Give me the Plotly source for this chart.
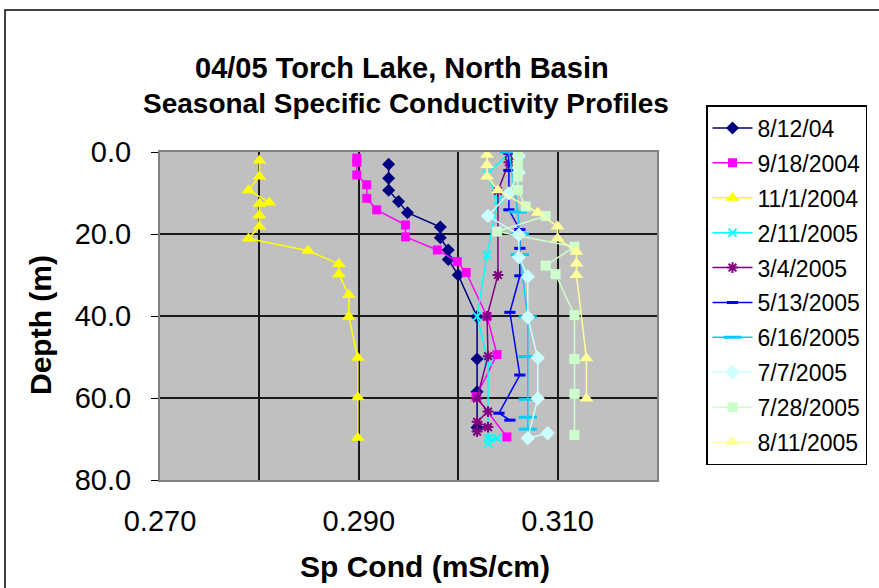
import plotly.graph_objects as go

# ---- data (x = Sp Cond mS/cm, y = depth m) ----
labels = ["8/12/04", "9/18/2004", "11/1/2004", "2/11/2005", "3/4/2005",
          "5/13/2005", "6/16/2005", "7/7/2005", "7/28/2005", "8/11/2005"]

cond_0812 = [0.2930, 0.2930, 0.2930, 0.2940, 0.2949, 0.2982, 0.2982, 0.2990, 0.2990, 0.3000, 0.3019, 0.3019, 0.3019, 0.3019]
depth_0812 = [3.0, 6.4, 9.3, 12.1, 14.8, 18.3, 20.9, 23.9, 26.2, 30.0, 40.2, 50.5, 58.5, 67.2]

cond_0918 = [0.2898, 0.2898, 0.2898, 0.2908, 0.2908, 0.2918, 0.2947, 0.2947, 0.2979, 0.2999, 0.3008, 0.3029, 0.3039, 0.3018, 0.3049]
depth_0918 = [1.5, 2.5, 5.6, 8.0, 11.3, 14.1, 17.8, 20.7, 23.9, 26.7, 29.4, 40.1, 49.4, 59.7, 69.5]

cond_1101 = [0.2800, 0.2800, 0.2789, 0.2810, 0.2800, 0.2800, 0.2800, 0.2789, 0.2849, 0.2880, 0.2880, 0.2890, 0.2890, 0.2899, 0.2899, 0.2899]
depth_1101 = [2.1, 6.0, 9.3, 12.3, 12.6, 15.4, 18.2, 21.1, 24.1, 27.3, 29.8, 34.9, 40.2, 50.2, 59.8, 69.7]

cond_0211 = [0.3051, 0.3029, 0.3040, 0.3029, 0.3019, 0.3030, 0.3030, 0.3039, 0.3030]
depth_0211 = [0.3, 5.5, 11.7, 25.1, 40.1, 51.1, 69.8, 69.8, 71.0]

cond_0304 = [0.3051, 0.3051, 0.3040, 0.3040, 0.3029, 0.3030, 0.3019, 0.3030, 0.3019, 0.3030, 0.3019]
depth_0304 = [0.5, 2.5, 9.5, 30.0, 40.1, 49.8, 60.1, 63.3, 65.8, 67.1, 68.2]

cond_0513 = [0.3051, 0.3051, 0.3051, 0.3062, 0.3062, 0.3062, 0.3052, 0.3062, 0.3041, 0.3052]
depth_0513 = [0.2, 4.5, 14.1, 18.9, 23.5, 30.2, 39.1, 54.4, 63.7, 65.4]

cond_0616 = [0.3051, 0.3060, 0.3062, 0.3062, 0.3070, 0.3070, 0.3070, 0.3070, 0.3070]
depth_0616 = [0.0, 14.6, 20.0, 25.0, 40.2, 49.9, 60.3, 64.7, 67.6]

cond_0707 = [0.3061, 0.3061, 0.3051, 0.3030, 0.3061, 0.3061, 0.3070, 0.3070, 0.3080, 0.3080, 0.3070, 0.3090]
depth_0707 = [1.0, 5.0, 10.1, 15.6, 20.2, 25.7, 30.4, 40.3, 50.2, 60.1, 69.8, 68.6]

cond_0728 = [0.3060, 0.3060, 0.3060, 0.3060, 0.3068, 0.3088, 0.3039, 0.3117, 0.3088, 0.3098, 0.3117, 0.3117, 0.3117, 0.3117]
depth_0728 = [0.3, 3.2, 6.0, 9.3, 13.3, 15.6, 19.4, 23.1, 27.7, 29.8, 39.8, 50.5, 59.0, 69.0]

cond_0811 = [0.3029, 0.3029, 0.3029, 0.3040, 0.3080, 0.3100, 0.3100, 0.3119, 0.3119, 0.3119, 0.3129, 0.3129]
depth_0811 = [0.7, 3.2, 6.0, 9.3, 14.8, 18.2, 21.1, 24.3, 27.2, 30.0, 50.3, 60.1]

x_tickvals = [0.270, 0.280, 0.290, 0.300, 0.310, 0.320]
x_ticktext = ["0.270", "", "0.290", "", "0.310", ""]
y_tickvals = [0, 20, 40, 60, 80]

series = [
    (cond_0812, depth_0812, "#000080", "diamond", 10, 0),
    (cond_0918, depth_0918, "#FF00FF", "square", 9, 0),
    (cond_1101, depth_1101, "#FFFF00", "triangle-up", 12, 0),
    (cond_0211, depth_0211, "#00FFFF", "x-thin-open", 8, 2),
    (cond_0304, depth_0304, "#800080", "asterisk-open", 9, 2),
    (cond_0513, depth_0513, "#0000FF", "line-ew-open", 8, 3),
    (cond_0616, depth_0616, "#00CCFF", "line-ew-open", 13, 3),
    (cond_0707, depth_0707, "#CCFFFF", "diamond", 11, 0),
    (cond_0728, depth_0728, "#CCFFCC", "square", 10, 0),
    (cond_0811, depth_0811, "#FFFF99", "triangle-up", 12, 0),
]

fig = go.Figure()
for name, (xs, ys, col, sym, sz, lw) in zip(labels, series):
    mk = dict(symbol=sym, size=sz, color=col)
    if lw:
        mk["line"] = dict(color=col, width=lw)
    fig.add_trace(go.Scatter(x=xs, y=ys, mode="lines+markers", name=name,
                             legendgroup=name,
                             line=dict(color=col, width=1.5), marker=mk))

L, R, T, B = 160, 657, 152, 480
W, H = 879, 588
pw, ph = R - L, B - T

def px(xp):
    return (xp - L) / pw

def py(yp):
    return (B - yp) / ph

fig.update_layout(
    width=W, height=H,
    margin=dict(l=L, r=W - R, t=T, b=H - B),
    paper_bgcolor="white",
    plot_bgcolor="#C0C0C0",
    font=dict(family="Liberation Sans, Arial, sans-serif", color="black"),
    showlegend=True,
    legend=dict(x=px(706), y=py(105), xanchor="left", yanchor="top",
                bgcolor="white", bordercolor="black", borderwidth=1.5,
                font=dict(size=23), tracegroupgap=2, itemwidth=40,
                maxheight=420),
    xaxis=dict(range=[0.270, 0.320], tickvals=x_tickvals, ticktext=x_ticktext,
               showgrid=True, gridcolor="#1a1a1a", gridwidth=2,
               showline=True, linecolor="#808080", linewidth=2, mirror=True,
               ticks="outside", ticklen=14, tickcolor="rgba(0,0,0,0)",
               tickfont=dict(size=29), zeroline=False, fixedrange=True),
    yaxis=dict(range=[80, 0], tickvals=y_tickvals, tickformat=".1f",
               showgrid=True, gridcolor="#1a1a1a", gridwidth=2,
               showline=True, linecolor="#808080", linewidth=2, mirror=True,
               ticks="outside", ticklen=7, tickcolor="black", tickwidth=1,
               ticklabelstandoff=14,
               tickfont=dict(size=29), zeroline=False, fixedrange=True),
    annotations=[
        dict(text="<b>04/05 Torch Lake, North Basin</b>", xref="paper", yref="paper",
             x=px(402), y=py(68), showarrow=False, font=dict(size=29),
             xanchor="center", yanchor="middle"),
        dict(text="<b>Seasonal Specific Conductivity Profiles</b>", xref="paper", yref="paper",
             x=px(406), y=py(103), showarrow=False, font=dict(size=28),
             xanchor="center", yanchor="middle"),
        dict(text="<b>Sp Cond (mS/cm)</b>", xref="paper", yref="paper",
             x=px(425), y=py(566), showarrow=False, font=dict(size=30),
             xanchor="center", yanchor="middle"),
        dict(text="<b>Depth (m)</b>", xref="paper", yref="paper",
             x=px(40), y=py(325), showarrow=False, font=dict(size=30),
             textangle=-90, xanchor="center", yanchor="middle"),
    ],
    shapes=[
        dict(type="rect", xref="paper", yref="paper",
             x0=px(5), x1=px(920), y0=py(630), y1=py(10),
             line=dict(color="black", width=1.5), fillcolor="rgba(0,0,0,0)",
             layer="below"),
    ],
)

fig.write_html("out.html", config={"displayModeBar": False},
               post_script="document.body.style.margin='0';document.body.style.overflow='hidden';")
